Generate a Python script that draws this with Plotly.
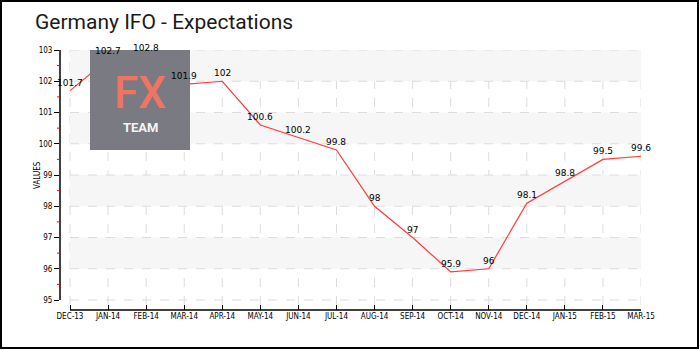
import plotly.graph_objects as go

# Monthly Germany IFO expectations index
months = ["DEC-13", "JAN-14", "FEB-14", "MAR-14", "APR-14", "MAY-14", "JUN-14", "JUL-14",
          "AUG-14", "SEP-14", "OCT-14", "NOV-14", "DEC-14", "JAN-15", "FEB-15", "MAR-15"]
values = [101.7, 102.7, 102.8, 101.9, 102.0, 100.6, 100.2, 99.8,
          98.0, 97.0, 95.9, 96.0, 98.1, 98.8, 99.5, 99.6]
y_ticks = [95, 96, 97, 98, 99, 100, 101, 102, 103]
title_text = "Germany IFO - Expectations"
y_title = "VALUES"

W, H = 700, 350
L, R, T, B = 60, 59, 50, 40
PW, PH = W - L - R, H - T - B


def px(x):
    return (x - L) / PW


def py(y):
    return 1 - (y - T) / PH


idx = list(range(len(months)))
x_lo, x_hi = -0.263, len(months) - 1
y_lo, y_hi = 94.68, 103

fig = go.Figure()
fig.add_trace(go.Scatter(x=idx, y=values, mode="lines",
                         line=dict(color="#ff3b3b", width=1.2),
                         hoverinfo="skip", showlegend=False))

shapes = []
# alternating horizontal bands
for lo in (96, 98, 100, 102):
    shapes.append(dict(type="rect", xref="x", yref="y", x0=0, x1=x_hi, y0=lo, y1=lo + 1,
                       fillcolor="#f6f6f6", line=dict(width=0), layer="below"))
# dashed grid
for v in y_ticks:
    shapes.append(dict(type="line", xref="x", yref="y", x0=0, x1=x_hi, y0=v, y1=v,
                       line=dict(color="#dcdcdc", width=1, dash="dash"), layer="below"))
for i in idx:
    shapes.append(dict(type="line", xref="x", yref="paper", x0=i, x1=i, y0=py(305), y1=py(50),
                       line=dict(color="#dcdcdc", width=1, dash="dash"), layer="below"))
# axis lines
shapes.append(dict(type="line", xref="paper", yref="y", x0=0, x1=0, y0=95, y1=103,
                   line=dict(color="black", width=1.5)))
shapes.append(dict(type="line", xref="x", yref="paper", x0=0, x1=x_hi, y0=0, y1=0,
                   line=dict(color="black", width=1.5)))
# red half-step ticks on the value axis
for v in y_ticks[:-1]:
    shapes.append(dict(type="line", xref="paper", yref="y", x0=px(57), x1=0, y0=v + 0.5, y1=v + 0.5,
                       line=dict(color="red", width=1)))
# logo box
shapes.append(dict(type="rect", xref="paper", yref="paper", x0=px(90), x1=px(190),
                   y0=py(150), y1=py(50), fillcolor="#7a7a82", line=dict(width=0), layer="above"))
# outer frame
shapes.append(dict(type="rect", xref="paper", yref="paper", x0=px(1), x1=px(698),
                   y0=py(348), y1=py(1), line=dict(color="black", width=2), fillcolor="rgba(0,0,0,0)"))

annotations = []
for i, v in zip(idx, values):
    annotations.append(dict(x=i, y=v, xref="x", yref="y", text=f"{v:g}", showarrow=False,
                            xanchor="center", yanchor="bottom", yshift=1,
                            font=dict(family="DejaVu Sans", size=9, color="black")))
annotations.append(dict(x=px(140), y=py(93), xref="paper", yref="paper", text="FX",
                        xanchor="center", yanchor="middle",
                        showarrow=False, font=dict(family="Roboto", size=44, weight=500,
                                                   color="#ef7462")))
annotations.append(dict(x=px(140), y=py(127), xref="paper", yref="paper", text="<b>TEAM</b>",
                        xanchor="center", yanchor="middle",
                        showarrow=False, font=dict(family="Roboto", size=13, color="#f4f4f4")))
annotations.append(dict(x=px(37), y=py(175), xref="paper", yref="paper", text=y_title,
                        xanchor="center", yanchor="middle",
                        showarrow=False, textangle=-90,
                        font=dict(family="DejaVu Sans Condensed, DejaVu Sans", size=8, color="black")))

tick_font = dict(family="DejaVu Sans Condensed, DejaVu Sans", size=8, color="black")

fig.update_layout(
    width=W, height=H,
    margin=dict(l=L, r=R, t=T, b=B),
    paper_bgcolor="white", plot_bgcolor="white",
    title=dict(text=title_text, x=35 / W, xanchor="left", y=1 - 22 / H, yanchor="middle",
               xref="container", yref="container",
               font=dict(family="Roboto", size=21, color="#1a1a1a")),
    xaxis=dict(range=[x_lo, x_hi], tickmode="array", tickvals=idx, ticktext=months,
               showgrid=False, zeroline=False, showline=False,
               ticks="inside", ticklen=5, tickcolor="black", tickwidth=1,
               tickfont=tick_font, fixedrange=True),
    yaxis=dict(range=[y_lo, y_hi], tickmode="array", tickvals=y_ticks,
               showgrid=False, zeroline=False, showline=False,
               ticks="outside", ticklen=5, tickcolor="black", tickwidth=1,
               tickfont=tick_font, fixedrange=True),
    shapes=shapes,
    annotations=annotations,
)

fig.write_html("out.html")
